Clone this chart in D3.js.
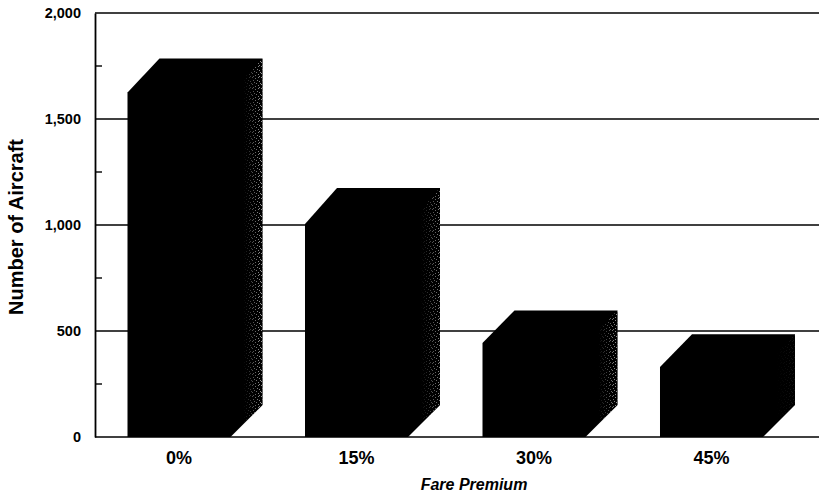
<!DOCTYPE html>
<html><head><meta charset="utf-8">
<script src="https://cdn.jsdelivr.net/npm/d3@7"></script>
<style>html,body{margin:0;background:#fff}svg{display:block}text{font-family:"Liberation Sans",Arial,sans-serif;font-weight:700;fill:#000}</style>
</head><body><svg width="819" height="498"></svg>
<script>
const categories = ["0%","15%","30%","45%"];
const frontValues = [1625,1005,443,330];
const backValues = [1785,1175,597,485];
const yTicks = [0,500,1000,1500,2000];
const yMinorTicks = [250,750,1250,1750];
const speckle = [0.8,0.65,0.75,0.1];

const svg=d3.select("svg");
const y=d3.scaleLinear().domain([0,2000]).range([437,13]);
const x=d3.scaleBand().domain(categories).range([127.5,763]).paddingInner(0.4197).paddingOuter(0);
const depth=32;
const defs=svg.append("defs");
const pat=defs.append("pattern").attr("id","dots").attr("width",9).attr("height",11).attr("patternUnits","userSpaceOnUse");
pat.append("rect").attr("width",9).attr("height",11).attr("fill","#000");
[[0,0],[3,1],[6,0],[1,3],[5,3],[7,4],[2,5],[4,6],[8,6],[0,7],[6,8],[3,9],[1,10],[7,10]].forEach(p=>
  pat.append("rect").attr("x",p[0]).attr("y",p[1]).attr("width",1).attr("height",1).attr("fill","#bbb"));
const grad=defs.append("linearGradient").attr("id","fade");
grad.append("stop").attr("offset","0.4").attr("stop-color","#000");
grad.append("stop").attr("offset","0.95").attr("stop-color","#fff");
defs.append("mask").attr("id","m").attr("maskContentUnits","objectBoundingBox")
  .append("rect").attr("width",1).attr("height",1).attr("fill","url(#fade)");

// gridlines
svg.append("g").selectAll("line").data(yTicks).join("line")
  .attr("x1",95).attr("x2",819).attr("y1",d=>y(d)).attr("y2",d=>y(d))
  .attr("stroke","#000").attr("stroke-width",1.6);
// axis
const axis=d3.axisLeft(y).tickValues(yTicks).tickSize(0).tickPadding(14).tickFormat(d3.format(","));
const ag=svg.append("g").attr("transform","translate(95,0)").call(axis);
ag.select(".domain").attr("stroke","#000").attr("stroke-width",1.8);
ag.selectAll("text").attr("font-size",14.5);
svg.append("g").selectAll("line").data(yMinorTicks).join("line")
  .attr("x1",95).attr("x2",102).attr("y1",d=>y(d)).attr("y2",d=>y(d))
  .attr("stroke","#000").attr("stroke-width",1.4);

// bars
const bars=svg.append("g").selectAll("g").data(categories).join("g");
const sidePath=(c,i)=>{const r=x(c)+x.bandwidth(),ft=y(frontValues[i]),bt=y(backValues[i]),b=y(0);
  return `M${r},${b}L${r+depth},${b-depth}L${r+depth},${bt}L${r},${ft}Z`;};
bars.append("path").attr("d",(c,i)=>{const l=x(c),r=l+x.bandwidth(),ft=y(frontValues[i]),bt=y(backValues[i]),b=y(0);
  return `M${l},${b}L${l},${ft}L${l+depth},${bt}L${r+depth},${bt}L${r+depth},${b-depth}L${r},${b}Z`;}).attr("fill","#000");
bars.append("path").attr("d",sidePath).attr("fill","url(#dots)").attr("opacity",(c,i)=>speckle[i]).attr("mask","url(#m)");

// category labels
svg.append("g").selectAll("text").data(categories).join("text")
  .attr("x",c=>x(c)+x.bandwidth()/2).attr("y",464).attr("text-anchor","middle").attr("font-size",18).text(d=>d);
svg.append("text").attr("x",474).attr("y",490).attr("text-anchor","middle").attr("font-size",16).attr("font-style","italic").text("Fare Premium");
svg.append("text").attr("transform","translate(23,227) rotate(-90)").attr("text-anchor","middle").attr("font-size",20).text("Number of Aircraft");
</script></body></html>
